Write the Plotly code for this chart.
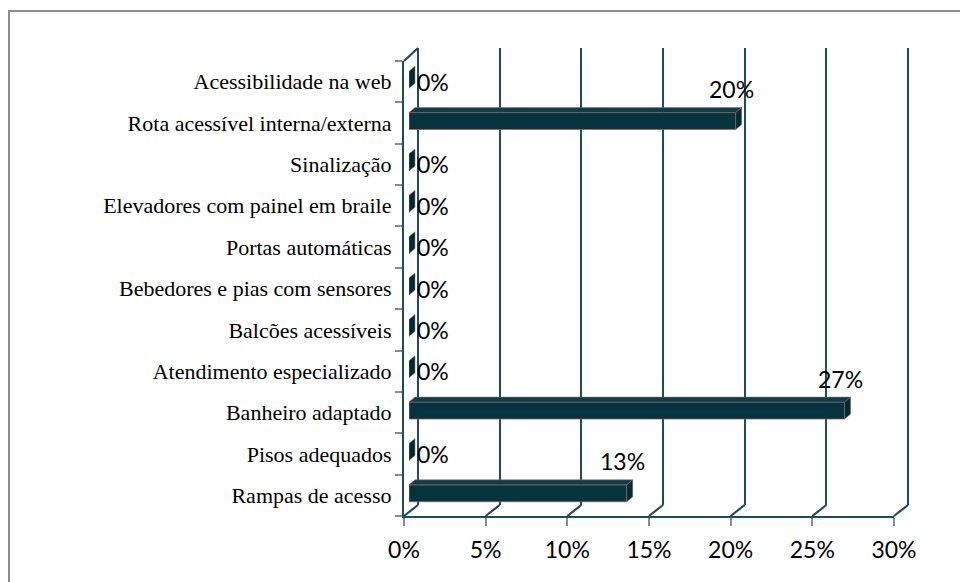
import plotly.graph_objects as go

# ---- data (bottom to top, as the category axis runs) ----
categories = [
    "Rampas de acesso",
    "Pisos adequados",
    "Banheiro adaptado",
    "Atendimento especializado",
    "Balcões acessíveis",
    "Bebedores e pias com sensores",
    "Portas automáticas",
    "Elevadores com painel em braile",
    "Sinalização",
    "Rota acessível interna/externa",
    "Acessibilidade na web",
]
values = [13.33, 0, 26.67, 0, 0, 0, 0, 0, 0, 20.0, 0]
x_ticks = [0, 5, 10, 15, 20, 25, 30]
x_ticklabels = ["0%", "5%", "10%", "15%", "20%", "25%", "30%"]

# ---- layout geometry (pixels) ----
W, H = 960, 582
XMAX = 30
BACK_X = (418, 908)
BACK_Y = (48, 505)
FRONT_X = (404, 894)
FRONT_Y = (61, 516)
BAR_X = (409, 899)
BAR_Y = (59, 514)
TEAL = "#1d4d5b"
GRAY = "#8c8c8c"
BAR_FRONT = "#05343f"
BAR_TOP = "#0b3e4a"
BAR_SIDE = "#032a33"
BAR_EDGE = "rgba(150,105,95,0.9)"
EPS = 0.4  # range padding so edge gridlines are not clipped away


def px(x):
    return x / W


def py(y):
    return 1 - y / H


def dom_x(r):
    return [px(r[0]), px(r[1])]


def dom_y(r):
    return [py(r[1]), py(r[0])]


fig = go.Figure()

n = len(categories)
idx = list(range(n))

# front face of bars
fig.add_trace(go.Bar(
    x=values, y=idx, orientation="h", xaxis="x3", yaxis="y3",
    width=0.41, marker=dict(color=BAR_FRONT, line=dict(color=BAR_EDGE, width=0.8)),
    hoverinfo="skip", showlegend=False,
))

# invisible trace to create the front category axis
fig.add_trace(go.Scatter(
    x=[0] * n, y=categories, xaxis="x2", yaxis="y2", mode="markers",
    marker=dict(opacity=0), hoverinfo="skip", showlegend=False,
))
# invisible trace on back wall axes
fig.add_trace(go.Scatter(
    x=[0, XMAX], y=[0, 0], xaxis="x", yaxis="y", mode="markers",
    marker=dict(opacity=0), hoverinfo="skip", showlegend=False,
))

shapes = []
# 3D faces of bars (in bar-axis data units)
bar_px_per_unit_x = (BAR_X[1] - BAR_X[0]) / XMAX
bar_px_per_unit_y = (BAR_Y[1] - BAR_Y[0]) / n
dx = 6 / bar_px_per_unit_x
dy = 5 / bar_px_per_unit_y
hw = 0.205
for i, v in zip(idx, values):
    top = i + hw
    bot = i - hw
    if v > 0:
        shapes.append(dict(
            type="path", xref="x3", yref="y3",
            path=f"M0,{top} L{dx},{top+dy} L{v+dx},{top+dy} L{v},{top} Z",
            fillcolor=BAR_TOP, line=dict(color=BAR_EDGE, width=0.6), layer="above",
        ))
    shapes.append(dict(
        type="path", xref="x3", yref="y3",
        path=f"M{v},{bot} L{v+dx},{bot+dy} L{v+dx},{top+dy} L{v},{top} Z",
        fillcolor=BAR_SIDE, line=dict(color=BAR_EDGE, width=0.6), layer="above",
    ))

# floor connectors from front ticks to back gridlines
for t in x_ticks:
    fxp = FRONT_X[0] + t / XMAX * (FRONT_X[1] - FRONT_X[0])
    bxp = BACK_X[0] + t / XMAX * (BACK_X[1] - BACK_X[0])
    shapes.append(dict(
        type="line", xref="paper", yref="paper",
        x0=px(fxp), y0=py(FRONT_Y[1]), x1=px(bxp), y1=py(BACK_Y[1]),
        line=dict(color=TEAL, width=2.2),
    ))
# top-left wall diagonal
shapes.append(dict(
    type="line", xref="paper", yref="paper",
    x0=px(FRONT_X[0]), y0=py(FRONT_Y[0]), x1=px(BACK_X[0]), y1=py(BACK_Y[0]),
    line=dict(color=TEAL, width=2.2),
))
# outer chart border (top and left visible)
shapes.append(dict(
    type="rect", xref="paper", yref="paper",
    x0=px(9), y0=py(H + 20), x1=px(W + 20), y1=py(11),
    line=dict(color=GRAY, width=2), fillcolor="rgba(0,0,0,0)", layer="below",
))

annotations = []
for i, v in zip(idx, values):
    lab = f"{v:.0f}%"
    if v > 0:
        annotations.append(dict(
            x=v, y=i, xref="x3", yref="y3", text=lab, showarrow=False,
            xanchor="center", yanchor="middle", yshift=32, xshift=-4,
            font=dict(family="Lato", size=23, color="#000"),
        ))
    else:
        annotations.append(dict(
            x=v, y=i, xref="x3", yref="y3", text=lab, showarrow=False,
            xanchor="left", yanchor="middle", xshift=6, yshift=-2,
            font=dict(family="Lato", size=23, color="#000"),
        ))

# back-wall axis domain widened by EPS so that 0 and 30 gridlines are inside
bpu = (BACK_X[1] - BACK_X[0]) / XMAX
back_dom = (BACK_X[0] - EPS * bpu, BACK_X[1] + EPS * bpu)

fig.update_layout(
    template="none",
    width=W, height=H, autosize=False,
    margin=dict(l=0, r=0, t=0, b=0, pad=0, autoexpand=False),
    paper_bgcolor="white", plot_bgcolor="rgba(0,0,0,0)",
    showlegend=False,
    shapes=shapes,
    annotations=annotations,
    xaxis=dict(
        domain=dom_x(back_dom), range=[-EPS, XMAX + EPS], tickvals=x_ticks,
        showticklabels=False, showgrid=True, gridcolor=TEAL, gridwidth=2.2,
        zeroline=False, showline=False, ticks="", fixedrange=True,
        automargin=False,
    ),
    yaxis=dict(
        domain=dom_y(BACK_Y), range=[-0.5, 0.5], visible=False, fixedrange=True,
        automargin=False,
    ),
    xaxis2=dict(
        domain=dom_x(FRONT_X), range=[0, XMAX], anchor="y2",
        tickvals=x_ticks, ticktext=x_ticklabels,
        showgrid=False, zeroline=False,
        showline=True, linecolor=TEAL, linewidth=2.2,
        ticks="outside", ticklen=8, tickcolor=GRAY, tickwidth=2,
        tickfont=dict(family="Lato", size=23, color="#000"),
        ticklabelstandoff=4, fixedrange=True, automargin=False,
    ),
    yaxis2=dict(
        domain=dom_y(FRONT_Y), anchor="x2", type="category",
        categoryorder="array", categoryarray=categories,
        range=[-0.5, n - 0.5],
        showgrid=False, zeroline=False,
        showline=True, linecolor=TEAL, linewidth=2.2,
        ticks="outside", ticklen=7, tickcolor=GRAY, tickwidth=2,
        tickson="boundaries",
        tickfont=dict(family="Liberation Serif", size=22, color="#000"),
        ticklabelstandoff=6, fixedrange=True, automargin=False,
    ),
    xaxis3=dict(
        domain=dom_x(BAR_X), range=[0, XMAX], anchor="y3", visible=False,
        fixedrange=True, automargin=False,
    ),
    yaxis3=dict(
        domain=dom_y(BAR_Y), range=[-0.5, n - 0.5], anchor="x3", visible=False,
        fixedrange=True, automargin=False,
    ),
)

post = (
    "document.documentElement.style.margin='0';"
    "document.body.style.margin='0';"
    "document.body.style.padding='0';"
    "document.body.style.overflow='hidden';"
    "document.documentElement.style.overflow='hidden';"
)

fig.write_html("out.html", config={"displayModeBar": False, "responsive": False},
               post_script=post)
